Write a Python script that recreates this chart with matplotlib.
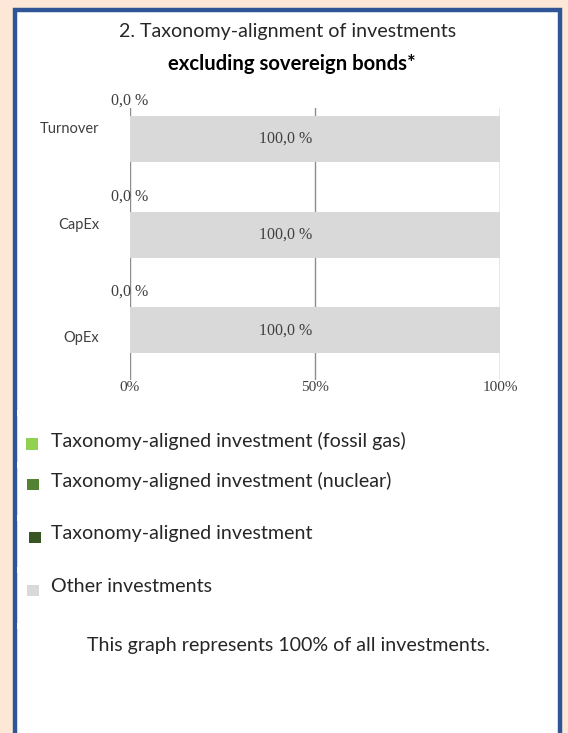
import matplotlib
matplotlib.use("Agg")
import matplotlib.pyplot as plt
from matplotlib.patches import Rectangle
import matplotlib.transforms as mtransforms

# ---- data ----
categories = ["Turnover", "CapEx", "OpEx"]
fossil_gas = [0.0, 0.0, 0.0]
nuclear = [0.0, 0.0, 0.0]
aligned = [0.0, 0.0, 0.0]
other = [100.0, 100.0, 100.0]
x_ticks = [0, 50, 100]
x_tick_labels = ["0%", "50%", "100%"]
legend_labels = ["Taxonomy-aligned investment (fossil gas)",
                 "Taxonomy-aligned investment (nuclear)",
                 "Taxonomy-aligned investment",
                 "Other investments"]
title_line1 = "2. Taxonomy-alignment of investments"
title_line2 = "excluding sovereign bonds*"
footer = "This graph represents 100% of all investments."

# ---- style ----
W, H = 568, 733
col_gas = "#92D050"
col_nuc = "#548235"
col_ali = "#375623"
col_oth = "#D9D9D9"
sans = ["Lato", "DejaVu Sans"]
serif = ["Liberation Serif", "DejaVu Serif"]

fig = plt.figure(figsize=(W / 100, H / 100), dpi=100)
fig.patch.set_facecolor("#FDE8D8")

def fx(px):
    return px / W

def fy(py):
    return 1 - py / H

# white panel with blue border
fig.patches.append(Rectangle((fx(15.5), fy(740)), fx(544), (740 - 9.5) / H,
                             transform=fig.transFigure, facecolor="white",
                             edgecolor="#2F5597", linewidth=3.2, zorder=-5))
# small white notches in the left border
for ny in [410, 462, 515, 567, 623]:
    fig.patches.append(Rectangle((fx(16.6), fy(ny + 6)), fx(1.6), 6 / H,
                                 transform=fig.transFigure, facecolor="white",
                                 edgecolor="none", zorder=-4))

rect = [fx(130), fy(380), fx(500) - fx(130), (380 - 108) / H]
ylim = (2.52, -0.325)

# gridline axes (behind the bars)
axg = fig.add_axes(rect, zorder=1)
axg.set_facecolor("none")
axg.set_xlim(0, 100)
axg.set_ylim(*ylim)
axg.axis("off")
for xv in x_ticks:
    axg.axvline(xv, color="#8C8C8C", linewidth=1.0)

# bar axes (on top)
ax = fig.add_axes(rect, zorder=2)
ax.set_facecolor("none")
y = list(range(len(categories)))
bh = 0.48
left = [0.0] * 3
for vals, col in [(fossil_gas, col_gas), (nuclear, col_nuc), (aligned, col_ali), (other, col_oth)]:
    ax.barh(y, vals, left=left, height=bh, color=col, edgecolor="none", zorder=5)
    left = [l + v for l, v in zip(left, vals)]

ax.set_xlim(0, 100)
ax.set_ylim(*ylim)
for s in ax.spines.values():
    s.set_visible(False)
ax.set_yticks([])
ax.set_xticks(x_ticks)
ax.set_xticklabels(x_tick_labels, fontfamily=serif, fontsize=11, color="#404040")
ax.tick_params(axis="x", length=0, pad=1)
ax.grid(False)

# category labels (slightly offset as in reference)
cat_offsets = [-10, -10, 8]
blend = mtransforms.blended_transform_factory(ax.transAxes, ax.transData)
for i, (c, off) in enumerate(zip(categories, cat_offsets)):
    tr = blend + mtransforms.ScaledTranslation(-31 / 100, -off / 100, fig.dpi_scale_trans)
    ax.text(0, i, c, transform=tr, ha="right", va="center", fontfamily=sans,
            fontsize=10.5, color="#404040", zorder=6)

# data labels
for i in range(len(categories)):
    tot_al = fossil_gas[i] + nuclear[i] + aligned[i]
    ax.annotate(f"{tot_al:.1f} %".replace(".", ","), (tot_al, i - bh / 2),
                xytext=(0, 11), textcoords="offset points", ha="center", va="center",
                fontfamily=serif, fontsize=11.5, color="#404040", annotation_clip=False,
                zorder=6)
    ax.annotate(f"{other[i]:.1f} %".replace(".", ","), (tot_al + other[i] / 2, i),
                xytext=(-21.5, 0), textcoords="offset points", ha="center", va="center",
                fontfamily=serif, fontsize=11.5, color="#404040", zorder=6)

# titles
fig.text(fx(288), fy(32), title_line1, ha="center", va="center",
         fontfamily=sans, fontsize=14.1, color="#262626")
fig.text(fx(291.5), fy(64), title_line2, ha="center", va="center",
         fontfamily=sans, fontsize=14.6, fontweight="bold", color="black")

# legend
leg_y = [443, 483, 536, 589]
sq_x = [26, 27, 29, 27]
for lab, col, ly, sx in zip(legend_labels, [col_gas, col_nuc, col_ali, col_oth], leg_y, sq_x):
    fig.patches.append(Rectangle((fx(sx), fy(ly + 7)), fx(11.5), 11.5 / H,
                                 transform=fig.transFigure, facecolor=col, edgecolor="none"))
    fig.text(fx(51), fy(ly - 2), lab, ha="left", va="center", fontfamily=sans,
             fontsize=14.1, color="#262626")

fig.text(fx(288), fy(645), footer, ha="center", va="center", fontfamily=sans,
         fontsize=14.1, color="#262626")

fig.savefig("out.png", dpi=100, facecolor=fig.get_facecolor())
